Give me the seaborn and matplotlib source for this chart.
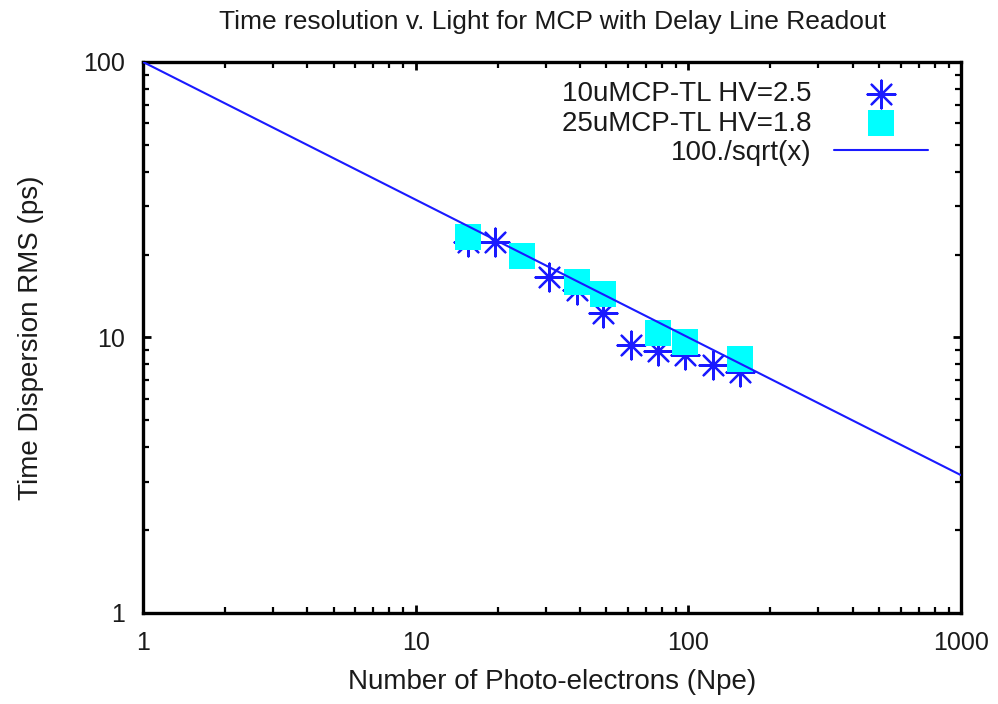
import numpy as np
import pandas as pd
import matplotlib
matplotlib.use("Agg")
import matplotlib.pyplot as plt
import seaborn as sns
from matplotlib.ticker import LogLocator, NullFormatter, FixedLocator, FixedFormatter

# data
npe_10 = [15.5, 19.5, 30.8, 38.9, 48.7, 61.4, 77.4, 97.0, 122.8, 154.6]
rms_10 = [22.3, 22.2, 16.6, 14.9, 12.3, 9.4, 8.9, 8.64, 7.94, 7.51]
npe_25 = [15.5, 24.6, 38.9, 48.7, 77.4, 97.0, 154.6]
rms_25 = [23.2, 19.8, 15.9, 14.4, 10.4, 9.66, 8.33]
fit_x = [1, 1000]

label_10 = "10uMCP-TL HV=2.5"
label_25 = "25uMCP-TL HV=1.8"
label_fit = "100./sqrt(x)"

df10 = pd.DataFrame({"npe": npe_10, "rms": rms_10})
df25 = pd.DataFrame({"npe": npe_25, "rms": rms_25})
fit = pd.DataFrame({"npe": fit_x})
fit["rms"] = 100.0 / np.sqrt(fit["npe"])

sns.set_style("white")
plt.rcParams['font.family'] = ['Liberation Sans', 'DejaVu Sans']
plt.rcParams['font.size'] = 18
plt.rcParams['text.color'] = '#1a1a1a'
plt.rcParams['axes.labelcolor'] = '#1a1a1a'

fig = plt.figure(figsize=(9.98, 7.04), dpi=100)
ax = fig.add_axes([0.1433, 0.1293, 0.963 - 0.1433, 0.912 - 0.1293])

sns.scatterplot(data=df10, x="npe", y="rms", ax=ax, marker=(8, 2, 0), s=400,
                color="#1a1aff", linewidth=1.6, label=label_10, zorder=2)
sns.scatterplot(data=df25, x="npe", y="rms", ax=ax, marker="s", s=340,
                color="#00ffff", linewidth=0, label=label_25, zorder=3)
sns.lineplot(data=fit, x="npe", y="rms", ax=ax, color="#1a1aff", linewidth=1.5,
             label=label_fit, zorder=4)

ax.set_xscale("log")
ax.set_yscale("log")
ax.set_xlim(1, 1000)
ax.set_ylim(1, 100)

ax.xaxis.set_major_locator(FixedLocator([1, 10, 100, 1000]))
ax.xaxis.set_major_formatter(FixedFormatter(["1", "10", "100", "1000"]))
ax.yaxis.set_major_locator(FixedLocator([1, 10, 100]))
ax.yaxis.set_major_formatter(FixedFormatter(["1", "10", "100"]))
ax.xaxis.set_minor_locator(LogLocator(base=10, subs=np.arange(2, 10)))
ax.yaxis.set_minor_locator(LogLocator(base=10, subs=np.arange(2, 10)))
ax.xaxis.set_minor_formatter(NullFormatter())
ax.yaxis.set_minor_formatter(NullFormatter())
ax.tick_params(which="both", direction="in", top=True, right=True,
               bottom=True, left=True, colors="black", labelcolor="#1a1a1a")
ax.tick_params(which="major", length=6, width=2.0, labelsize=18, pad=13)
ax.tick_params(which="minor", length=4, width=1.6)
for sp in ax.spines.values():
    sp.set_linewidth(2.4)
    sp.set_color("black")

ax.set_xlabel("Number of Photo-electrons (Npe)", fontsize=20, labelpad=10)
ax.set_ylabel("Time Dispersion RMS (ps)", fontsize=20, labelpad=28)
ax.set_title("Time resolution v. Light for MCP with Delay Line Readout", fontsize=19, pad=24)

ax.legend(loc="upper right", bbox_to_anchor=(0.98, 0.995), frameon=False,
          markerfirst=False, handlelength=3.4, handletextpad=0.8,
          labelspacing=0.12, fontsize=20, borderaxespad=0.2)

fig.savefig("out.png", dpi=100)
